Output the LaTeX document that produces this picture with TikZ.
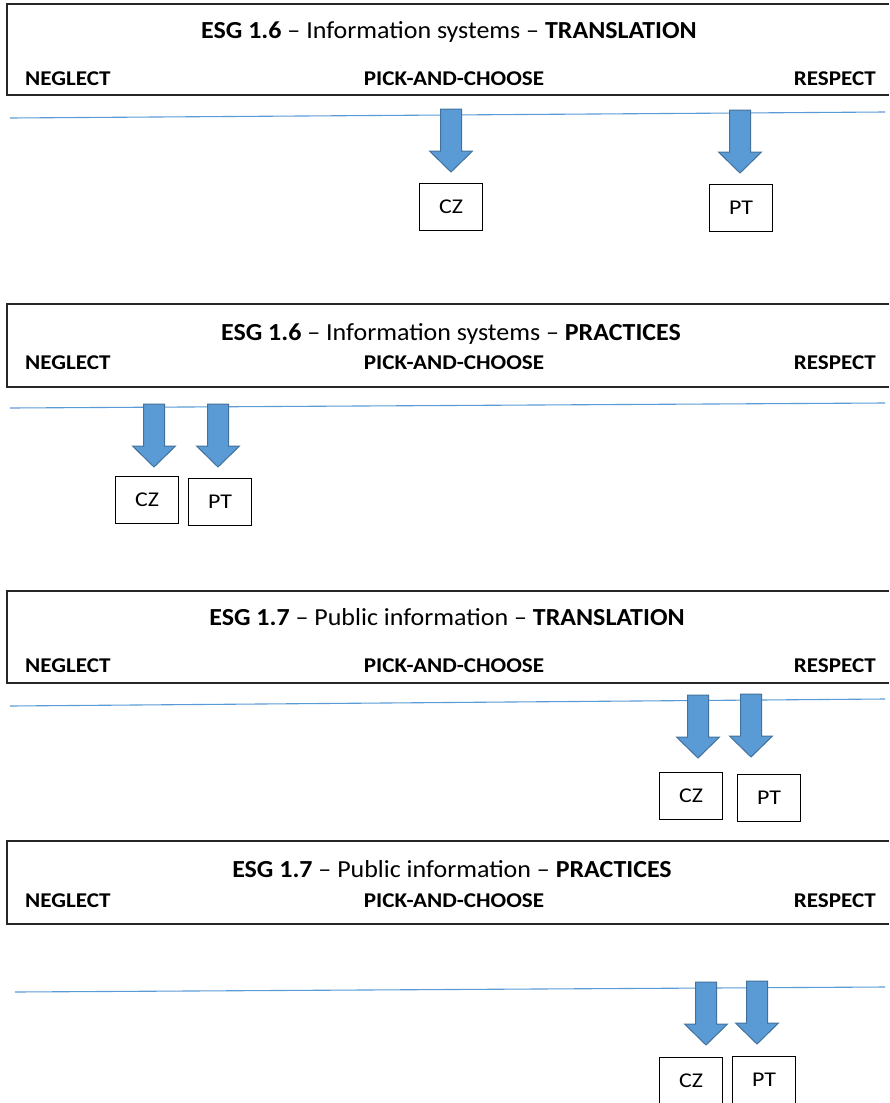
\documentclass[tikz,border=0pt]{standalone}
\usepackage{fontspec}
\setmainfont{Carlito}
\usepackage{tikz}
\usetikzlibrary{positioning}
\definecolor{scaleblue}{RGB}{91,155,213}
\definecolor{arrowedge}{RGB}{65,113,156}
\tikzset{
  panel/.style={draw=black!85,line width=1.6pt},
  scaleline/.style={draw=scaleblue,line width=1.1pt},
  headtext/.style={inner sep=0pt,anchor=base,xscale=1.06,font=\fontsize{24.5}{29}\selectfont},
  endlabel/.style={inner sep=0pt,xscale=1.1,font=\fontsize{21}{25}\selectfont\bfseries},
  country/.style={draw,line width=1pt,minimum width=56pt,minimum height=47pt,inner sep=0pt,xscale=1.14,font=\fontsize{21}{25}\selectfont},
  bigdown/.pic={
    \filldraw[fill=scaleblue,draw=arrowedge,line width=1pt]
      (-10.5,0) -- (10.5,0) -- (10.5,42) -- (21.5,42) -- (0,63)
      -- (-21.5,42) -- (-10.5,42) -- cycle;
  }
}

\begin{document}
\begin{tikzpicture}[x=1pt,y=-1pt]
            \useasboundingbox (0,0) rectangle (889,1103);
            % ESG 1.6 -- translation
            \draw [panel] (889,4) -- (7,4) -- (7,95) -- (889,95);
            \node [headtext] (title1) at (449,38) {\textbf{ESG 1.6} -- Information systems -- \textbf{TRANSLATION}};
            \node [endlabel,anchor=base west] (neglect1) at (25,85) {NEGLECT};
            \node [endlabel,anchor=base] (pick1) at (454,85) {PICK-AND-CHOOSE};
            \node [endlabel,anchor=base east] (respect1) at (876,85) {RESPECT};
            \coordinate (lineL1) at (10,118);
            \coordinate (lineR1) at (885,112);
            \draw [scaleline] (lineL1) -- (lineR1);
            \pic at (451,109) {bigdown};
            \pic at (740,110) {bigdown};
            \node [country] (cz1) at (451,207) {CZ};
            \node [country] (pt1) at (741,208) {PT};
            % ESG 1.6 -- practices
            \draw [panel] (889,304) -- (7,304) -- (7,387) -- (889,387);
            \node [headtext] (title2) at (451,340) {\textbf{ESG 1.6} -- Information systems -- \textbf{PRACTICES}};
            \node [endlabel,anchor=base west] (neglect2) at (25,369) {NEGLECT};
            \node [endlabel,anchor=base] (pick2) at (454,369) {PICK-AND-CHOOSE};
            \node [endlabel,anchor=base east] (respect2) at (876,369) {RESPECT};
            \coordinate (lineL2) at (10,408);
            \coordinate (lineR2) at (885,403);
            \draw [scaleline] (lineL2) -- (lineR2);
            \pic at (154,404) {bigdown};
            \pic at (218,404) {bigdown};
            \node [country] (cz2) at (147,500) {CZ};
            \node [country] (pt2) at (220,502) {PT};
            % ESG 1.7 -- translation
            \draw [panel] (889,591) -- (7,591) -- (7,683) -- (889,683);
            \node [headtext] (title3) at (447,625) {\textbf{ESG 1.7} -- Public information -- \textbf{TRANSLATION}};
            \node [endlabel,anchor=base west] (neglect3) at (25,672) {NEGLECT};
            \node [endlabel,anchor=base] (pick3) at (454,672) {PICK-AND-CHOOSE};
            \node [endlabel,anchor=base east] (respect3) at (876,672) {RESPECT};
            \coordinate (lineL3) at (10,706);
            \coordinate (lineR3) at (885,699);
            \draw [scaleline] (lineL3) -- (lineR3);
            \pic at (698,695) {bigdown};
            \pic at (751,694) {bigdown};
            \node [country] (cz3) at (691,796) {CZ};
            \node [country] (pt3) at (769,798) {PT};
            % ESG 1.7 -- practices
            \draw [panel] (889,841) -- (7,841) -- (7,924) -- (889,924);
            \node [headtext] (title4) at (452,877) {\textbf{ESG 1.7} -- Public information -- \textbf{PRACTICES}};
            \node [endlabel,anchor=base west] (neglect4) at (25,907) {NEGLECT};
            \node [endlabel,anchor=base] (pick4) at (454,907) {PICK-AND-CHOOSE};
            \node [endlabel,anchor=base east] (respect4) at (876,907) {RESPECT};
            \coordinate (lineL4) at (15,992);
            \coordinate (lineR4) at (885,987);
            \draw [scaleline] (lineL4) -- (lineR4);
            \pic at (706,982) {bigdown};
            \pic at (757,981) {bigdown};
            \node [country] (cz4) at (691,1081) {CZ};
            \node [country] (pt4) at (764,1080) {PT};
        \end{tikzpicture}
\end{document}
